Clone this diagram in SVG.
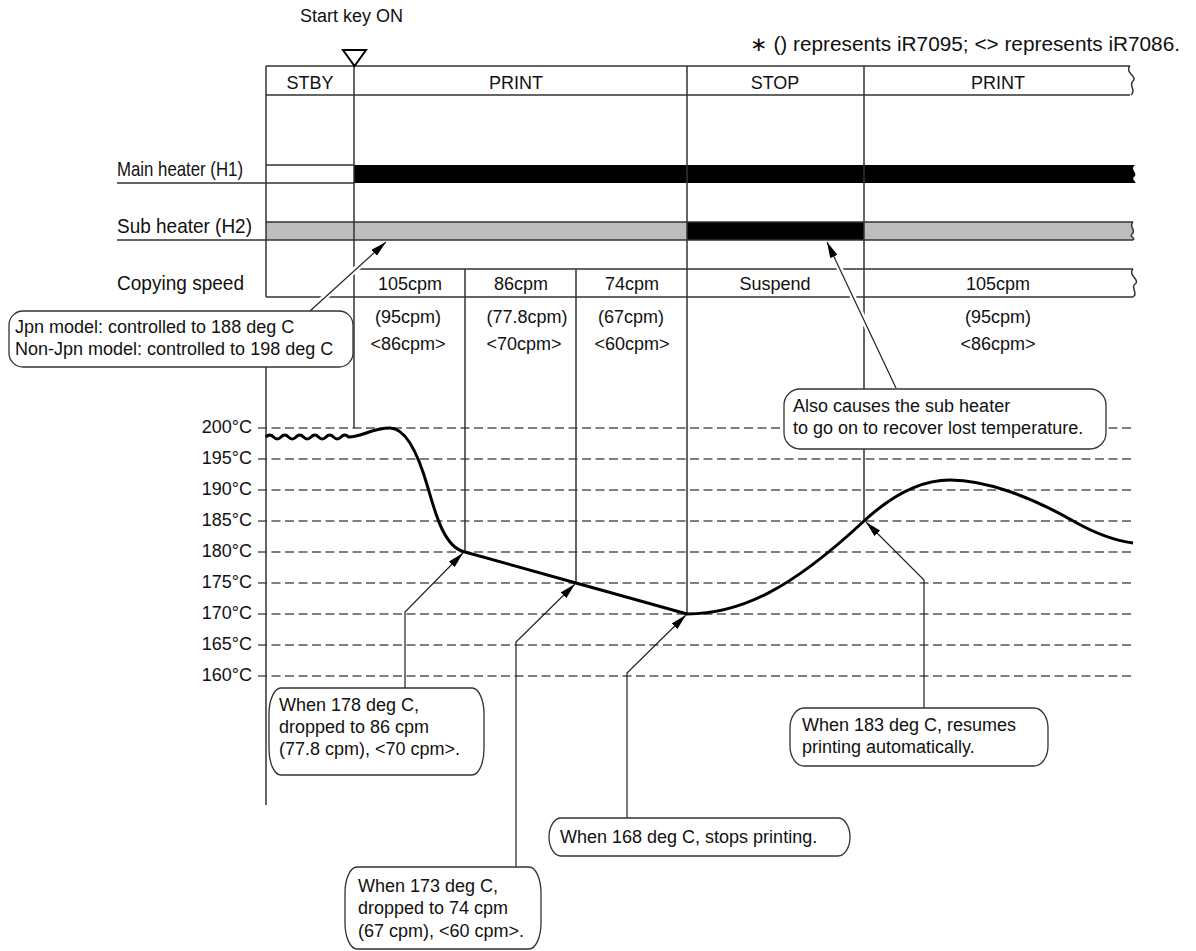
<svg xmlns="http://www.w3.org/2000/svg" width="1196" height="951" viewBox="0 0 1196 951">
<defs>
<style>
text{font-family:"Liberation Sans",Arial,sans-serif;font-size:18px;fill:#111}
.c{text-anchor:middle}
.r{text-anchor:end}
.lbl{font-size:21px}
.g{stroke:#333;stroke-width:1.5;fill:none}
.d{stroke:#555;stroke-width:1.5;stroke-dasharray:9 4.5;fill:none}
.box{fill:#fff;stroke:#333;stroke-width:1.3}
.cn{stroke:#222;stroke-width:1.2;fill:none}
.halo{stroke:#fff;stroke-width:6;fill:none}
</style>
<marker id="ah" viewBox="0 0 16 8" refX="16" refY="4" markerWidth="16" markerHeight="8" markerUnits="userSpaceOnUse" orient="auto">
<path d="M0,0 L16,4 L0,8 z" fill="#000"/>
</marker>
</defs>
<rect width="1196" height="951" fill="#fff"/>

<g id="headerTexts">
<text x="300" y="22">Start key ON</text>
<text x="750" y="51" style="font-size:20px" textLength="430" lengthAdjust="spacingAndGlyphs">∗ () represents iR7095; &lt;&gt; represents iR7086.</text>
</g>

<g id="temperatureGrid">
<line class="d" x1="258" y1="428" x2="1133" y2="428"/>
<line class="d" x1="258" y1="459" x2="1133" y2="459"/>
<line class="d" x1="258" y1="490" x2="1133" y2="490"/>
<line class="d" x1="258" y1="521" x2="1133" y2="521"/>
<line class="d" x1="258" y1="552" x2="1133" y2="552"/>
<line class="d" x1="258" y1="583" x2="1133" y2="583"/>
<line class="d" x1="258" y1="614" x2="1133" y2="614"/>
<line class="d" x1="258" y1="645" x2="1133" y2="645"/>
<line class="d" x1="258" y1="676" x2="1133" y2="676"/>
<text class="r" x="252" y="433">200°C</text>
<text class="r" x="252" y="464">195°C</text>
<text class="r" x="252" y="495">190°C</text>
<text class="r" x="252" y="526">185°C</text>
<text class="r" x="252" y="557">180°C</text>
<text class="r" x="252" y="588">175°C</text>
<text class="r" x="252" y="619">170°C</text>
<text class="r" x="252" y="650">165°C</text>
<text class="r" x="252" y="681">160°C</text>
</g>

<g id="timingTable">
<rect x="266" y="222" width="421" height="18" fill="#bdbdbd"/>
<rect x="687" y="222" width="177" height="18" fill="#000"/>
<path d="M864,222 H1133 C1128,227 1137,230 1132,234 C1129,237 1136,238 1133,240 H864 Z" fill="#bdbdbd"/>
<path d="M354,165 H1135 C1129,170 1139,173 1134,177 C1131,180 1137,181 1135,183 H354 Z" fill="#000"/>
<path class="g" d="M266,66 H1130 M266,95 H1130 M266,66 V297 M266,297 H1133 M354,269 H1133 M266,165 H354 M117,183 H354 M266,222 H1133 M117,240 H1133"/>
<path class="g" d="M1130,66 C1124,72 1138,77 1133,81 C1128,86 1137,90 1131,95"/>
<path class="g" d="M1133,269 C1127,275 1141,280 1135,284 C1130,288 1139,293 1133,297"/>
<path class="g" d="M1133,222 C1128,227 1137,230 1132,234 C1129,237 1136,238 1133,240"/>
<path class="g" d="M354,66 V428 M687,66 V614 M864,66 V521 M465,269 V552 M576,269 V583 M266,367 V805"/>
<path d="M343,50 H366 L354.5,66 Z" fill="#fff" stroke="#000" stroke-width="2"/>
<text class="c" x="310" y="89">STBY</text>
<text class="c" x="516" y="89">PRINT</text>
<text class="c" x="775" y="89">STOP</text>
<text class="c" x="998" y="89">PRINT</text>
<text class="lbl" x="117" y="176" textLength="126" lengthAdjust="spacingAndGlyphs">Main heater (H1)</text>
<text class="lbl" x="117" y="233" textLength="135" lengthAdjust="spacingAndGlyphs">Sub heater (H2)</text>
<text class="lbl" x="117" y="290" textLength="127" lengthAdjust="spacingAndGlyphs">Copying speed</text>
<text class="c" x="410" y="290">105cpm</text>
<text class="c" x="521" y="290">86cpm</text>
<text class="c" x="632" y="290">74cpm</text>
<text class="c" x="775" y="290">Suspend</text>
<text class="c" x="998" y="290">105cpm</text>
<text class="c" x="408" y="323">(95cpm)</text>
<text class="c" x="408" y="350">&lt;86cpm&gt;</text>
<text class="c" x="527" y="323">(77.8cpm)</text>
<text class="c" x="524" y="350">&lt;70cpm&gt;</text>
<text class="c" x="631" y="323">(67cpm)</text>
<text class="c" x="632" y="350">&lt;60cpm&gt;</text>
<text class="c" x="998" y="323">(95cpm)</text>
<text class="c" x="998" y="350">&lt;86cpm&gt;</text>
</g>

<g id="temperatureCurve">
<path d="M266,437 q3.75,-4 7.5,0 t7.5,0 t7.5,0 t7.5,0 t7.5,0 t7.5,0 t7.5,0 t7.5,0 t7.5,0 t7.5,0 t7.5,0 C362,437 372,428 390,428 C408,428 420,460 428,488 C436,516 445,548 465,552 L576,583 L687,614 C740,614 790,590 864,521 C890,497 920,480 950,480 C985,480 1030,496 1075,522 C1100,536 1118,541 1133,543" fill="none" stroke="#000" stroke-width="3"/>
</g>

<g id="connectors">
<path class="halo" d="M313,308 L380,247"/>
<path class="halo" d="M893,382 L832,252"/>
<path class="cn" d="M310,311 L386,242" marker-end="url(#ah)"/>
<path class="cn" d="M896,388 L827,242" marker-end="url(#ah)"/>
<path class="cn" d="M405,688 V612 L463,553" marker-end="url(#ah)"/>
<path class="cn" d="M516,867 V642 L575,584" marker-end="url(#ah)"/>
<path class="cn" d="M627,818 V673 L686,615" marker-end="url(#ah)"/>
<path class="cn" d="M924,708 V580 L866,522" marker-end="url(#ah)"/>
</g>

<g id="noteJpn">
<rect class="box" x="9" y="311" width="344" height="56" rx="14"/>
<text x="15" y="333">Jpn model: controlled to 188 deg C</text>
<text x="15" y="355">Non-Jpn model: controlled to 198 deg C</text>
</g>

<g id="noteSubHeater">
<rect class="box" x="784" y="389" width="322" height="60" rx="16"/>
<text x="793" y="412">Also causes the sub heater</text>
<text x="793" y="434">to go on to recover lost temperature.</text>
</g>

<g id="note178">
<rect class="box" x="269" y="688" width="215" height="87" rx="12" ry="26"/>
<text x="279" y="711">When 178 deg C,</text>
<text x="279" y="733">dropped to 86 cpm</text>
<text x="279" y="755">(77.8 cpm), &lt;70 cpm&gt;.</text>
</g>

<g id="note173">
<rect class="box" x="345" y="867" width="196" height="82" rx="12" ry="26"/>
<text x="358" y="892">When 173 deg C,</text>
<text x="358" y="914">dropped to 74 cpm</text>
<text x="358" y="937">(67 cpm), &lt;60 cpm&gt;.</text>
</g>

<g id="note168">
<rect class="box" x="549" y="818" width="301" height="38" rx="12" ry="19"/>
<text x="560" y="843">When 168 deg C, stops printing.</text>
</g>

<g id="note183">
<rect class="box" x="790" y="708" width="258" height="58" rx="14" ry="20"/>
<text x="802" y="731">When 183 deg C, resumes</text>
<text x="802" y="753">printing automatically.</text>
</g>
</svg>
